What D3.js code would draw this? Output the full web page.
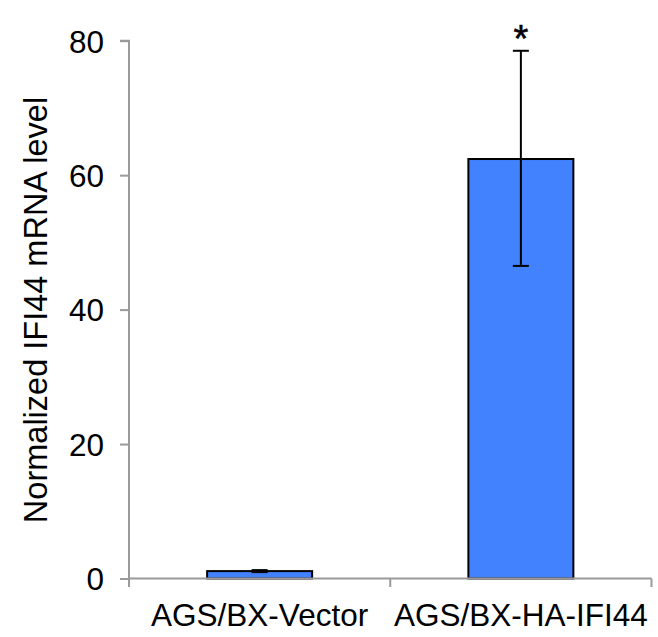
<!DOCTYPE html>
<html>
<head>
<meta charset="utf-8">
<script src="https://cdn.jsdelivr.net/npm/d3@7"></script>
<style>
  html, body { margin: 0; padding: 0; background: #fff; }
  svg text { font-family: "Liberation Sans", Arial, Helvetica, sans-serif; fill: #000; }
</style>
</head>
<body>
<svg id="chart" width="658" height="637"></svg>
<script>
const categories = ["AGS/BX-Vector", "AGS/BX-HA-IFI44"];
const values = [1.1, 62.4];
const errLow = [0.95, 46.5];
const errHigh = [1.25, 78.5];
const significance = ["", "*"];
const yTicks = [0, 20, 40, 60, 80];
const yLabel = "Normalized IFI44 mRNA level";

(function () {
const svg = d3.select("#chart");
const mLeft = 129, mRight = 651.5, mTop = 40.7, mBottom = 578.5;
const fs = 31.5;

const xFull = d3.scaleBand().domain(categories).range([mLeft, mRight]);
const y = d3.scaleLinear().domain([0, 80]).range([mBottom, mTop]);

const axisColor = "#9a9a9a";

// bars
const g = svg.append("g");
g.selectAll("rect.bar").data(categories).enter().append("rect")
  .attr("class", "bar")
  .attr("x", d => xFull(d) + xFull.bandwidth() / 2 - 52.5)
  .attr("width", 105)
  .attr("y", (d, i) => y(values[i]))
  .attr("height", (d, i) => y(0) - y(values[i]))
  .attr("fill", "#4282ff")
  .attr("stroke", "#000")
  .attr("stroke-width", 2);

// error bars
categories.forEach((c, i) => {
  const cx = xFull(c) + xFull.bandwidth() / 2;
  g.append("line").attr("x1", cx).attr("x2", cx)
    .attr("y1", y(errLow[i])).attr("y2", y(errHigh[i]))
    .attr("stroke", "#000").attr("stroke-width", 2);
  [errLow[i], errHigh[i]].forEach(v => {
    g.append("line").attr("x1", cx - 8).attr("x2", cx + 8)
      .attr("y1", y(v)).attr("y2", y(v))
      .attr("stroke", "#000").attr("stroke-width", 2);
  });
  if (significance[i]) {
    g.append("text").attr("x", cx).attr("y", y(errHigh[i]) + 1)
      .attr("text-anchor", "middle").attr("font-size", 38)
      .attr("stroke", "#000").attr("stroke-width", 0.6)
      .text(significance[i]);
  }
});

// y axis
const yAxis = d3.axisLeft(y).tickValues(yTicks).tickSize(9).tickPadding(16);
const ya = svg.append("g").attr("transform", `translate(${mLeft},0)`).call(yAxis);
ya.select(".domain").attr("d", `M-9,${mTop}H0V${mBottom + 8.5}`).attr("stroke", axisColor).attr("stroke-width", 2).attr("fill", "none");
ya.selectAll(".tick line").attr("stroke", axisColor).attr("stroke-width", 2);
ya.selectAll(".tick text").attr("font-size", fs).attr("font-family", "Liberation Sans, Arial, sans-serif").attr("fill", "#000").attr("dy", "0.36em");

// x axis
const xa = svg.append("g").attr("transform", `translate(0,${mBottom})`);
xa.append("line").attr("x1", mLeft).attr("x2", mRight).attr("y1", 0).attr("y2", 0)
  .attr("stroke", axisColor).attr("stroke-width", 2);
const boundaries = categories.map(c => xFull(c) + xFull.bandwidth());
xa.selectAll("line.xt").data(boundaries).enter().append("line")
  .attr("class", "xt")
  .attr("x1", d => d).attr("x2", d => d).attr("y1", 0).attr("y2", 8.5)
  .attr("stroke", axisColor).attr("stroke-width", 2);
xa.selectAll("text.xl").data(categories).enter().append("text")
  .attr("class", "xl")
  .attr("x", d => xFull(d) + xFull.bandwidth() / 2)
  .attr("y", 47.5)
  .attr("text-anchor", "middle").attr("font-size", fs)
  .text(d => d);

// y label
svg.append("text")
  .attr("transform", `translate(47,310) rotate(-90)`)
  .attr("text-anchor", "middle").attr("font-size", 32.5)
  .text(yLabel);
})();
</script>
</body>
</html>
